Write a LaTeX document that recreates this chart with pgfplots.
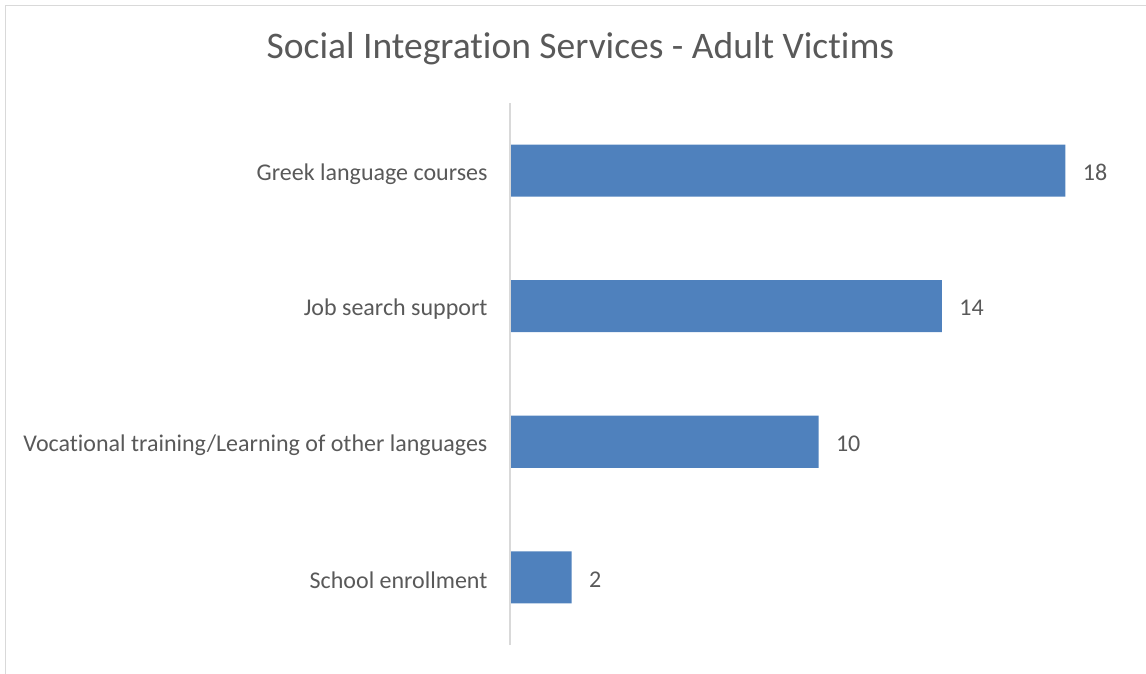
\documentclass[border=0pt]{standalone}
\usepackage{pgfplots}
\pgfplotsset{compat=1.18}
\usepackage{fontspec}
\setmainfont{Carlito}[Ligatures=NoCommon]

\definecolor{barblue}{HTML}{4F81BD}
\definecolor{txtgray}{HTML}{595959}
\definecolor{linegray}{HTML}{D9D9D9}

\begin{document}
\begin{tikzpicture}[x=1pt,y=1pt]
    \useasboundingbox (0,0) rectangle (1146,673);
    % chart frame
    \draw[linegray, line width=1.5pt] (5.5,-20) -- (5.5,667.5) -- (1170,667.5);
    % title
    \node[txtgray, font=\fontsize{37.5}{45}\selectfont] at (580.5,624) {Social Integration Services - Adult Victims};

    \begin{axis}[
        at={(510pt,28pt)}, anchor=south west,
        scale only axis,
        width=617pt, height=542pt,
        xbar,
        bar width=52pt,
        xmin=0, xmax=20,
        ymin=-0.5, ymax=3.5,
        hide x axis,
        axis line style={draw=none},
        ytick={0,1,2,3},
        yticklabels={School enrollment, Vocational training/Learning of other languages, Job search support, Greek language courses},
        yticklabel style={txtgray, font=\fontsize{24}{28}\selectfont, xshift=-19pt, yshift=-3pt},
        major tick length=0pt,
        nodes near coords,
        nodes near coords style={txtgray, font=\fontsize{24}{28}\selectfont, anchor=west, xshift=14pt, yshift=-2pt},
        /pgf/number format/assume math mode=true,
        clip=false,
        ]
        \addplot[fill=barblue, draw=none] coordinates {(2,0) (10,1) (14,2) (18,3)};
        \draw[linegray, line width=1.5pt] (axis cs:0,-0.5) -- (axis cs:0,3.5);
    \end{axis}
\end{tikzpicture}
\end{document}
